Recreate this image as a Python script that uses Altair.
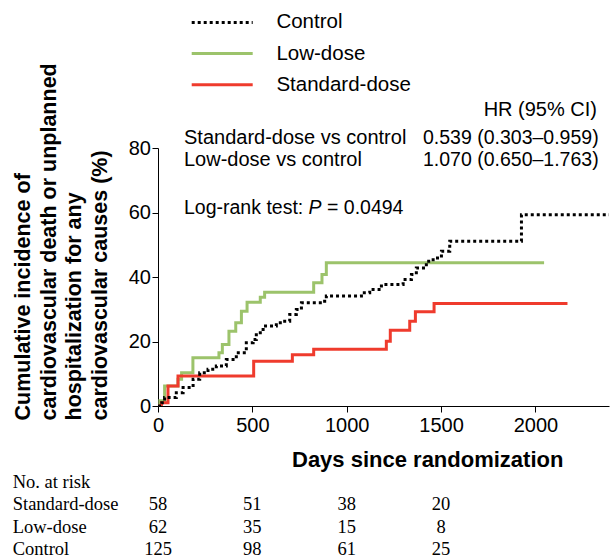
import altair as alt
import pandas as pd

# ---------------- data ----------------
series_names = ["Control", "Low-dose", "Standard-dose"]
series_colors = ["#000000", "#9cc36b", "#ef3b2d"]
series_dash = [[3, 3], [1, 0], [1, 0]]

control_days = [0, 20, 35, 97, 133, 186, 221, 265, 309, 362, 415, 468, 504, 521, 557,
                627, 663, 698, 733, 760, 883, 892, 1078, 1122, 1184, 1299, 1343, 1369,
                1422, 1458, 1502, 1546, 1926, 2390]
control_pct = [0, 1.0, 2.6, 4.1, 5.7, 8.3, 10.3, 11.4, 12.4, 14.4, 16.5, 19.6, 20.6, 22.7,
               24.8, 25.8, 26.3, 28.4, 29.9, 32.0, 32.5, 34.1, 35.1, 36.1, 37.7, 39.2,
               40.8, 42.8, 44.9, 45.9, 48.0, 51.1, 59.3, 59.3]

low_days = [0, 10, 35, 106, 125, 185, 323, 341, 376, 412, 442, 472, 542, 565, 825, 869, 892, 2046]
low_pct = [0, 1.6, 6.2, 8.3, 10.3, 15.0, 16.5, 19.1, 23.2, 25.8, 29.4, 32.2, 33.7, 35.3,
           38.2, 40.8, 44.4, 44.4]

std_days = [0, 18, 53, 106, 507, 712, 825, 1210, 1231, 1334, 1364, 1463, 2170]
std_pct = [0, 1.0, 6.2, 9.3, 13.9, 15.9, 17.6, 20.1, 23.5, 26.3, 29.2, 31.8, 31.8]

x_ticks = [0, 500, 1000, 1500, 2000]
y_ticks = [0, 20, 40, 60, 80]

risk_rows = ["No. at risk", "Standard-dose", "Low-dose", "Control"]
risk_days = [0, 500, 1000, 1500]
risk_standard = [58, 51, 38, 20]
risk_low = [62, 35, 15, 8]
risk_control = [125, 98, 61, 25]

y_title = ["Cumulative incidence of", "cardiovascular death or unplanned",
           "hospitalization for any", "cardiovascular causes (%)"]
x_title = "Days since randomization"

hr_header = "HR (95% CI)"
hr_labels = ["Standard-dose vs control", "Low-dose vs control"]
hr_values = ["0.539 (0.303–0.959)", "1.070 (0.650–1.763)"]
logrank_prefix = "Log-rank test: "
logrank_p = "P"
logrank_value = "= 0.0494"

# ---------------- tables ----------------
curves = pd.concat([
    pd.DataFrame({"series": "Control", "day": control_days, "pct": control_pct}),
    pd.DataFrame({"series": "Low-dose", "day": low_days, "pct": low_pct}),
    pd.DataFrame({"series": "Standard-dose", "day": std_days, "pct": std_pct}),
], ignore_index=True)

risk = pd.concat([
    pd.DataFrame({"row": "Standard-dose", "day": risk_days, "n": risk_standard}),
    pd.DataFrame({"row": "Low-dose", "day": risk_days, "n": risk_low}),
    pd.DataFrame({"row": "Control", "day": risk_days, "n": risk_control}),
], ignore_index=True)
risk_labels = pd.DataFrame({"row": risk_rows})
legend_df = pd.DataFrame({"series": series_names})

SANS = "Liberation Sans"
SERIF = "Liberation Serif"

x_enc = alt.X(
    "day:Q",
    scale=alt.Scale(domain=[0, 2390], nice=False, zero=False),
    axis=alt.Axis(values=x_ticks, format="d", title=x_title, labelPadding=3, labelFlush=False,
                  titleX=133.5, titleY=60.5, titleAlign="left", titleBaseline="alphabetic",
                  titleFontSize=22, titleFontWeight="bold"),
)
y_scale = alt.Scale(domain=[0, 80], nice=False)
y_axis = alt.Axis(values=y_ticks, format="d", title=y_title, labelPadding=1.5, labelFlush=False,
                  titleAngle=270, titleAlign="left", titleBaseline="alphabetic",
                  titleX=-128.5, titleY=272, titleFontSize=21.5, titleFontWeight="bold",
                  titleLineHeight=25.5)
color_enc = alt.Color("series:N", scale=alt.Scale(domain=series_names, range=series_colors), legend=None)
dash_enc = alt.StrokeDash("series:N", scale=alt.Scale(domain=series_names, range=series_dash), legend=None)


def curve(name, axis):
    return alt.Chart(curves).transform_filter(alt.datum.series == name).mark_line(
        interpolate="step-after", strokeWidth=3, strokeCap="butt", clip=True
    ).encode(
        x=x_enc,
        y=alt.Y("pct:Q", scale=y_scale, axis=axis),
        color=color_enc,
        strokeDash=dash_enc,
    )


layers = [
    curve("Low-dose", y_axis),
    curve("Standard-dose", None),
    curve("Control", None),
]

# number at risk
risk_y = alt.Y("row:N", scale=alt.Scale(type="point", domain=risk_rows, range=[334, 401], padding=0), axis=None)
layers.append(
    alt.Chart(risk).mark_text(font=SERIF, fontSize=18.5, align="center", baseline="middle", color="black")
    .encode(x=x_enc, y=risk_y, text="n:Q")
)
layers.append(
    alt.Chart(risk_labels).mark_text(font=SERIF, fontSize=18.5, align="left", baseline="middle", color="black")
    .encode(x=alt.value(-145.3), y=risk_y, text="row:N")
)

# legend
leg_y = alt.Y("series:N", scale=alt.Scale(type="point", domain=series_names, range=[-125.6, -63.3], padding=0), axis=None)
layers.append(
    alt.Chart(legend_df).mark_rule(strokeWidth=3, strokeCap="butt")
    .encode(x=alt.value(33.7), x2=alt.value(94.7), y=leg_y, color=color_enc, strokeDash=dash_enc)
)
layers.append(
    alt.Chart(legend_df).mark_text(font=SANS, fontSize=20.5, align="left", baseline="middle", color="black")
    .encode(x=alt.value(118.4), y=leg_y, text="series:N")
)


def label(txt, x, y, align="left", style="normal", size=19.5):
    return alt.Chart(pd.DataFrame({"t": [txt]})).mark_text(
        font=SANS, fontSize=size, align=align, baseline="middle", color="black", fontStyle=style
    ).encode(x=alt.value(x), y=alt.value(y), text="t:N")


layers += [
    label(hr_header, 439, -38, align="right", size=20),
    label(hr_labels[0], 26, -10, size=20),
    label(hr_values[0], 265, -10),
    label(hr_labels[1], 26, 12, size=20),
    label(hr_values[1], 265, 12),
    label(logrank_prefix, 26, 60),
    label(logrank_p, 150.6, 60, style="italic"),
    label(logrank_value, 169, 60),
]

chart = alt.layer(*layers).resolve_scale(y="independent").properties(
    width=451, height=258,
    padding={"left": 158, "top": 148, "right": 1, "bottom": 154},
    autosize=alt.AutoSizeParams(type="none"),
).configure_view(stroke=None).configure_axis(
    grid=False, domainColor="black", tickColor="black", labelColor="black", titleColor="black",
    labelFont=SANS, titleFont=SANS, labelFontSize=20, tickSize=6, domainWidth=1, tickWidth=1,
)

chart.save("out.html", embed_options={"renderer": "svg", "actions": False})
